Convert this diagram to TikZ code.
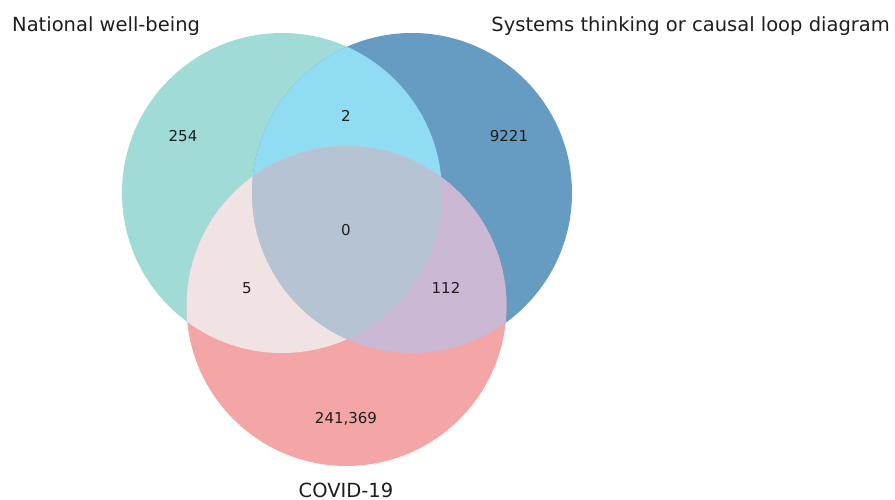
\documentclass[tikz,border=0pt]{standalone}
\usepackage{fontspec}
\setmainfont{DejaVu Sans}
\definecolor{nwbcol}{RGB}{160,219,216}
\definecolor{stcol}{RGB}{102,155,194}
\definecolor{covcol}{RGB}{244,166,166}
\definecolor{nwbstcol}{RGB}{143,220,243}
\definecolor{nwbcovcol}{RGB}{241,227,227}
\definecolor{stcovcol}{RGB}{203,184,212}
\definecolor{allcol}{RGB}{182,195,211}
\definecolor{txtcol}{RGB}{30,30,30}
\tikzset{
  setlabel/.style={text=txtcol,inner sep=0pt,font=\fontsize{19.5}{22}\selectfont},
  count/.style={text=txtcol,inner sep=0pt,font=\fontsize{15}{18}\selectfont}
}
\def\nwbset{(282,193) circle (160)}
\def\stset{(412,193) circle (160)}
\def\covset{(346.5,306) circle (160)}

\begin{document}
\begin{tikzpicture}[x=1pt,y=-1pt]
\useasboundingbox (0,0) rectangle (895,500);
% single sets
\fill[nwbcol] \nwbset;
\fill[stcol] \stset;
\fill[covcol] \covset;
% pairwise overlaps
\begin{scope}
\clip \nwbset;
\fill[nwbstcol] \stset;
\fill[nwbcovcol] \covset;
\end{scope}
\begin{scope}
\clip \stset;
\fill[stcovcol] \covset;
\end{scope}
% all three
\begin{scope}
\clip \nwbset;
\clip \stset;
\fill[allcol] \covset;
\end{scope}
% set names
\path (12,26) node(nwb) [setlabel,anchor=west]{National well-being};
\path (890,26) node(st) [setlabel,anchor=east]{Systems thinking or causal loop diagram};
\path (346,490) node(cov) [setlabel]{COVID-19};
% counts
\path (183,136) node(n100) [count]{254};
\path (346,116) node(n110) [count]{2};
\path (509,136) node(n010) [count]{9221};
\path (346,230) node(n111) [count]{0};
\path (247,288) node(n101) [count]{5};
\path (446,288) node(n011) [count]{112};
\path (346,419) node(n001) [count]{241,369};
\end{tikzpicture}
\end{document}
